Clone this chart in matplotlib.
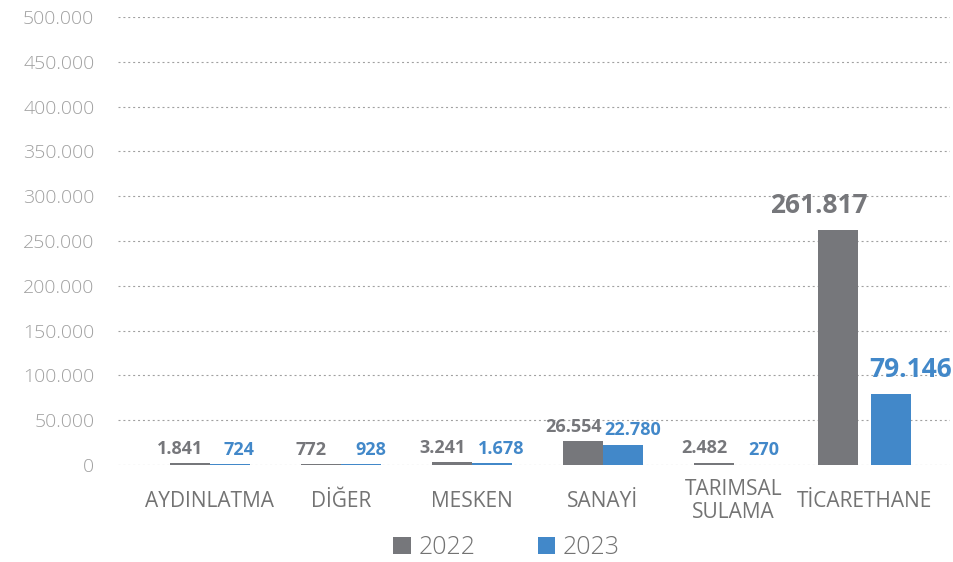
import numpy as np
import matplotlib.pyplot as plt
from matplotlib.ticker import FuncFormatter, MultipleLocator

# consumption by subscriber group
categories = ["AYDINLATMA", "DİĞER", "MESKEN", "SANAYİ", "TARIMSAL\nSULAMA", "TİCARETHANE"]
values_2022 = [1841, 772, 3241, 26554, 2482, 261817]
values_2023 = [724, 928, 1678, 22780, 270, 79146]
series_names = ["2022", "2023"]

GRAY = "#76777b"
BLUE = "#4288c9"

plt.rcParams["font.family"] = ["Open Sans", "DejaVu Sans"]

fig = plt.figure(figsize=(9.54, 5.62), dpi=100)
ax = fig.add_axes([0.1237, 0.1726, 0.872, 0.797])

x = np.arange(len(categories), dtype=float)
w = 0.305
# the last group is wider apart
gap = np.zeros(len(categories))
gap[-1] = 0.05

b1 = ax.bar(x - w / 2 - gap, values_2022, w, color=GRAY, label=series_names[0], zorder=3)
b2 = ax.bar(x + w / 2 + gap, values_2023, w, color=BLUE, label=series_names[1], zorder=3)

def fmt(v):
    return f"{v:,.0f}".replace(",", ".")

for bars, vals, color, dx in [(b1, values_2022, GRAY, -7), (b2, values_2023, BLUE, 7)]:
    for i, (bar, v) in enumerate(zip(bars, vals)):
        big = i == len(vals) - 1
        ax.annotate(fmt(v), (bar.get_x() + bar.get_width() / 2, v),
                    xytext=(dx * (2 if big else 1), 4 if not big else 8),
                    textcoords="offset points",
                    ha="center", va="bottom", color=color, fontweight="bold",
                    fontsize=19 if big else 13)

ax.set_ylim(0, 500000)
ax.set_xlim(-0.70, 5.65)
ax.yaxis.set_major_locator(MultipleLocator(50000))
ax.yaxis.set_major_formatter(FuncFormatter(lambda v, p: fmt(v)))
ax.grid(axis="y", color="#a0a0a0", linestyle=(0, (1.8, 2.6)), linewidth=0.8, zorder=0)
ax.set_axisbelow(True)

for s in ax.spines.values():
    s.set_visible(False)

ax.set_xticks(x, categories)
ax.tick_params(axis="both", length=0)
ax.tick_params(axis="y", labelsize=14, labelcolor="#a0a0a0", pad=17)
ax.tick_params(axis="x", labelsize=15, labelcolor="#737373", pad=26)
for lbl in ax.get_yticklabels():
    lbl.set_fontweight("light")
for lbl in ax.get_xticklabels():
    lbl.set_verticalalignment("center")
    lbl.set_linespacing(1.1)

leg = fig.legend(handles=[b1, b2], labels=series_names, loc="center",
                 bbox_to_anchor=(0.531, 0.025), ncol=2, frameon=False, fontsize=18,
                 labelcolor="#737373", handlelength=0.7, handleheight=0.7,
                 handletextpad=0.3, columnspacing=2.5)
for t in leg.get_texts():
    t.set_fontweight("light")

fig.savefig("out.png", dpi=100)
